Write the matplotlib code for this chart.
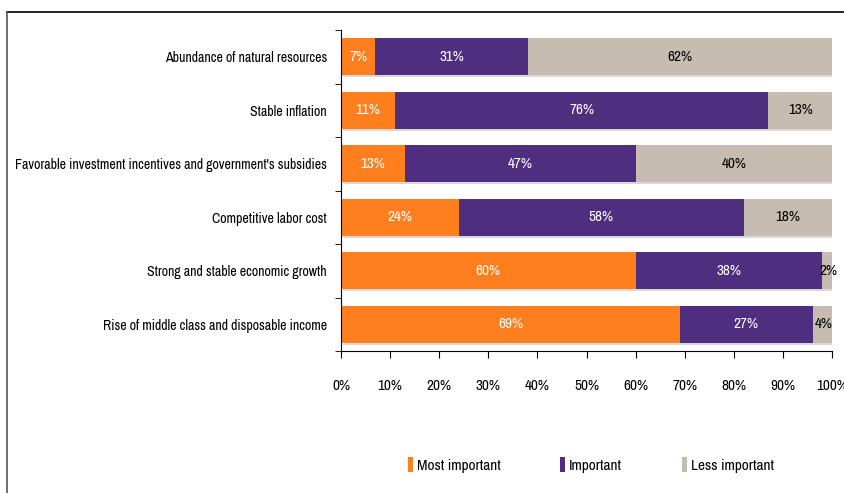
import matplotlib.pyplot as plt
from matplotlib.lines import Line2D
from matplotlib.patches import Patch
import numpy as np

plt.rcParams['font.family'] = ['Archivo Narrow', 'Liberation Sans', 'DejaVu Sans']

categories = [
    'Abundance of natural resources',
    'Stable inflation',
    "Favorable investment incentives and government's subsidies",
    'Competitive labor cost',
    'Strong and stable economic growth',
    'Rise of middle class and disposable income',
]
most_important = [7, 11, 13, 24, 60, 69]
important = [31, 76, 47, 58, 38, 27]
less_important = [62, 13, 40, 18, 2, 4]

series = ['Most important', 'Important', 'Less important']
colors = ['#FF7F1F', '#4F2D7F', '#C6BDB0']
text_colors = ['white', 'white', 'black']

fig = plt.figure(figsize=(8.44, 4.93), dpi=100)
ax = fig.add_axes([0.404, 0.288, 0.582, 0.651])

y = np.arange(len(categories))
h = 0.69
left = np.zeros(len(categories))
for vals, col, tc in zip([most_important, important, less_important], colors, text_colors):
    vals = np.array(vals, dtype=float)
    # soft drop shadow under each segment
    ax.barh(y + 0.04, vals, left=left + 0.4, height=h, color='#d8d8d8', zorder=1)
    ax.barh(y, vals, left=left, height=h, color=col, zorder=2)
    for yi, l, v in zip(y, left, vals):
        x = l + v / 2
        if v <= 4:
            x = l + v / 2 + 0.3
        ax.text(x, yi, f'{int(v)}%', ha='center', va='center', color=tc,
                fontsize=11, zorder=3)
    left += vals

ax.set_xlim(0, 100)
ax.set_ylim(5.5, -0.5)
ax.set_xticks(np.arange(0, 101, 10))
ax.set_xticklabels([f'{t}%' for t in range(0, 101, 10)], fontsize=11)
ax.set_yticks(y)
ax.set_yticklabels(categories, fontsize=10)
ax.tick_params(axis='y', length=0, pad=10)
ax.tick_params(axis='x', length=5, direction='out', pad=15)
# y-axis ticks between categories
ax.set_yticks(np.arange(-0.5, 6.0, 1), minor=True)
ax.tick_params(axis='y', which='minor', length=4, direction='out')
for s in ['top', 'right']:
    ax.spines[s].set_visible(False)

handles = [Patch(facecolor=c, edgecolor='none') for c in colors]
fig.legend(handles, series, loc='center', bbox_to_anchor=(0.70, 0.057), ncol=3,
           frameon=False, fontsize=11, handlelength=0.35, handleheight=1.1,
           handletextpad=0.25, columnspacing=3.9)

# outer frame lines
fig.add_artist(Line2D([0.008, 1.0], [0.975, 0.975], color='black', lw=1.2))
fig.add_artist(Line2D([0.008, 0.008], [0.0, 0.975], color='#555555', lw=1.2))

fig.savefig('out.png', dpi=100)
